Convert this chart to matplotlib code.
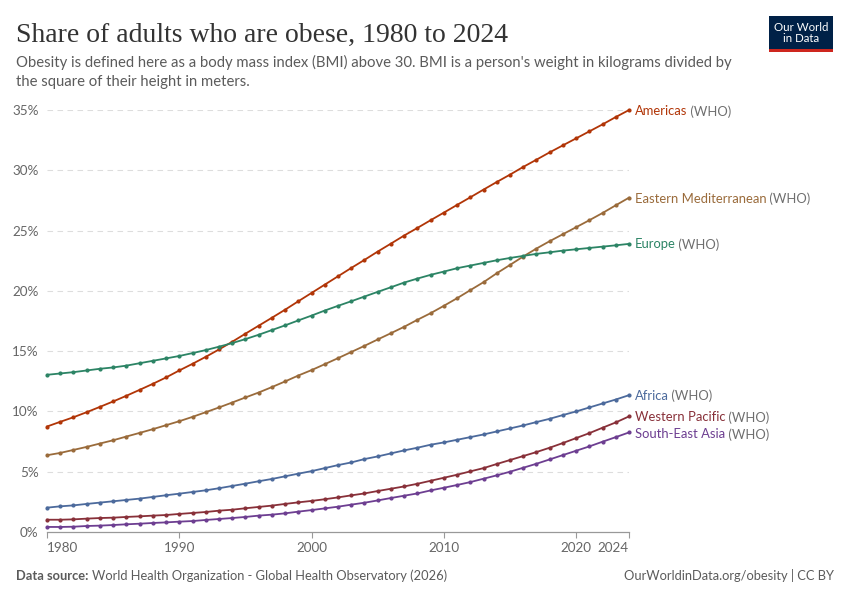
import numpy as np
import matplotlib.pyplot as plt
from matplotlib.patches import Rectangle

# data (share of adults, %)
years = list(range(1980, 2025))

americas = [8.75, 9.14, 9.52, 9.94, 10.38, 10.83, 11.3, 11.79, 12.29, 12.82,
            13.4, 13.95, 14.53, 15.14, 15.78, 16.45, 17.11, 17.77, 18.44, 19.14,
            19.83, 20.52, 21.21, 21.9, 22.57, 23.26, 23.92, 24.59, 25.22, 25.86,
            26.49, 27.13, 27.76, 28.4, 29.03, 29.64, 30.28, 30.88, 31.49, 32.07,
            32.65, 33.23, 33.81, 34.42, 35.0]
east_med = [6.37, 6.56, 6.81, 7.06, 7.34, 7.61, 7.92, 8.22, 8.53, 8.86,
            9.19, 9.55, 9.94, 10.33, 10.74, 11.16, 11.57, 12.02, 12.49, 12.98,
            13.43, 13.92, 14.42, 14.93, 15.44, 15.97, 16.49, 17.02, 17.6, 18.15,
            18.76, 19.39, 20.06, 20.72, 21.46, 22.15, 22.85, 23.51, 24.12, 24.7,
            25.28, 25.86, 26.46, 27.1, 27.73]
europe = [13.04, 13.15, 13.26, 13.4, 13.54, 13.65, 13.8, 14.0, 14.2, 14.4,
          14.6, 14.84, 15.09, 15.37, 15.67, 16.0, 16.36, 16.75, 17.14, 17.55,
          17.95, 18.37, 18.76, 19.14, 19.53, 19.92, 20.3, 20.69, 21.02, 21.33,
          21.6, 21.88, 22.1, 22.32, 22.54, 22.73, 22.9, 23.07, 23.2, 23.34,
          23.45, 23.56, 23.67, 23.78, 23.9]
africa = [2.02, 2.13, 2.21, 2.33, 2.44, 2.55, 2.66, 2.77, 2.91, 3.05,
          3.18, 3.32, 3.46, 3.63, 3.82, 4.01, 4.21, 4.4, 4.62, 4.84,
          5.05, 5.3, 5.55, 5.77, 6.05, 6.27, 6.52, 6.77, 6.99, 7.24,
          7.43, 7.65, 7.87, 8.09, 8.34, 8.59, 8.84, 9.12, 9.39, 9.7,
          10.0, 10.33, 10.66, 10.99, 11.35]
west_pac = [1.02, 1.02, 1.05, 1.11, 1.16, 1.19, 1.25, 1.3, 1.36, 1.41,
            1.5, 1.58, 1.66, 1.77, 1.85, 1.97, 2.08, 2.19, 2.33, 2.46,
            2.58, 2.72, 2.87, 3.04, 3.2, 3.4, 3.59, 3.78, 4.0, 4.25,
            4.5, 4.75, 5.03, 5.3, 5.64, 5.97, 6.3, 6.63, 6.99, 7.38,
            7.79, 8.2, 8.65, 9.09, 9.59]
se_asia = [0.42, 0.42, 0.44, 0.5, 0.53, 0.58, 0.64, 0.69, 0.75, 0.8,
           0.86, 0.91, 1.0, 1.08, 1.16, 1.25, 1.36, 1.44, 1.55, 1.69,
           1.82, 1.96, 2.1, 2.27, 2.43, 2.62, 2.82, 3.01, 3.2, 3.45,
           3.67, 3.9, 4.14, 4.42, 4.7, 5.0, 5.33, 5.66, 6.02, 6.38,
           6.74, 7.1, 7.49, 7.87, 8.26]

names = ["Americas", "Eastern Mediterranean", "Europe", "Africa",
         "Western Pacific", "South-East Asia"]
series = [americas, east_med, europe, africa, west_pac, se_asia]
colors = ["#B13507", "#9A6B3B", "#2C8465", "#4C6A9C", "#883039", "#6D3E91"]
# label y positions (in %) where they had to be nudged apart
label_y = [34.9, 27.65, 23.85, 11.3, 9.5, 8.1]

yticks = [0, 5, 10, 15, 20, 25, 30, 35]
xticks = [1980, 1990, 2000, 2010, 2020, 2024]

plt.rcParams['font.family'] = ['Lato', 'DejaVu Sans']
grey = "#5b5b5b"

fig = plt.figure(figsize=(8.5, 6), dpi=100)
ax = fig.add_axes([0.0553, 0.1133, 0.6847, 0.7033])

for vals, c in zip(series, colors):
    ax.plot(years, vals, color=c, lw=1.3, marker='o', ms=2.0, clip_on=False, zorder=3)

ax.set_xlim(1980, 2024)
ax.set_ylim(0, 35)
ax.set_yticks(yticks)
ax.set_yticklabels([f"{v}%" for v in yticks])
ax.set_xticks(xticks)
ax.set_xticklabels([str(v) for v in xticks])
ax.tick_params(axis='y', length=0, pad=6, labelsize=9.7, labelcolor="#666666")
ax.tick_params(axis='x', length=4, width=0.8, color="#999999", pad=3,
               labelsize=9.7, labelcolor="#666666")
xl = ax.get_xticklabels()
xl[0].set_ha('left')
xl[-1].set_ha('right')
for s in ['top', 'right', 'left']:
    ax.spines[s].set_visible(False)
ax.spines['bottom'].set_color("#999999")
ax.spines['bottom'].set_linewidth(0.9)
for v in yticks[1:]:
    ax.axhline(v, color="#dddddd", lw=0.8, ls=(0, (5, 4)), zorder=1)

# labels at line ends, name coloured and "(WHO)" grey
fig.canvas.draw()
r = fig.canvas.get_renderer()
for n, c, ly in zip(names, colors, label_y):
    t = ax.annotate(n, xy=(2024, ly), xytext=(4, 0), textcoords='offset points',
                    color=c, fontsize=9.4, va='center', ha='left', annotation_clip=False)
    bb = t.get_window_extent(r)
    fx = bb.x1 / fig.bbox.width
    ax.annotate(" (WHO)", xy=(2024, ly), xycoords='data',
                xytext=(fx, 0), textcoords=('figure fraction', 'offset points'),
                color="#6e6e6e", fontsize=9.4, va='center', ha='left', annotation_clip=False)

fig.text(0.019, 0.93, "Share of adults who are obese, 1980 to 2024",
         family=['Liberation Serif', 'DejaVu Serif'], fontsize=20, color="#333333", va='baseline')
fig.text(0.019, 0.889, "Obesity is defined here as a body mass index (BMI) above 30. BMI is a person's weight in kilograms divided by",
         fontsize=10.75, color=grey, va='baseline')
fig.text(0.019, 0.857, "the square of their height in meters.",
         fontsize=10.75, color=grey, va='baseline')

# logo
fig.patches.append(Rectangle((0.9047, 0.9133), 0.0753, 0.0600, transform=fig.transFigure,
                             facecolor="#002147", edgecolor='none'))
fig.patches.append(Rectangle((0.9047, 0.9133), 0.0753, 0.0055, transform=fig.transFigure,
                             facecolor="#CE261E", edgecolor='none'))
fig.text(0.9423, 0.9455, "Our World\nin Data", ha='center', va='center', color='white',
         fontsize=8.3, linespacing=1.0)

fig.text(0.019, 0.033, "Data source:", fontsize=9.3, color=grey, weight='bold', va='baseline')
fig.text(0.108, 0.033, "World Health Organization - Global Health Observatory (2026)",
         fontsize=9.3, color=grey, va='baseline')
fig.text(0.981, 0.033, "OurWorldinData.org/obesity | CC BY", fontsize=9.3, color=grey,
         va='baseline', ha='right')

fig.savefig("out.png", dpi=100)
